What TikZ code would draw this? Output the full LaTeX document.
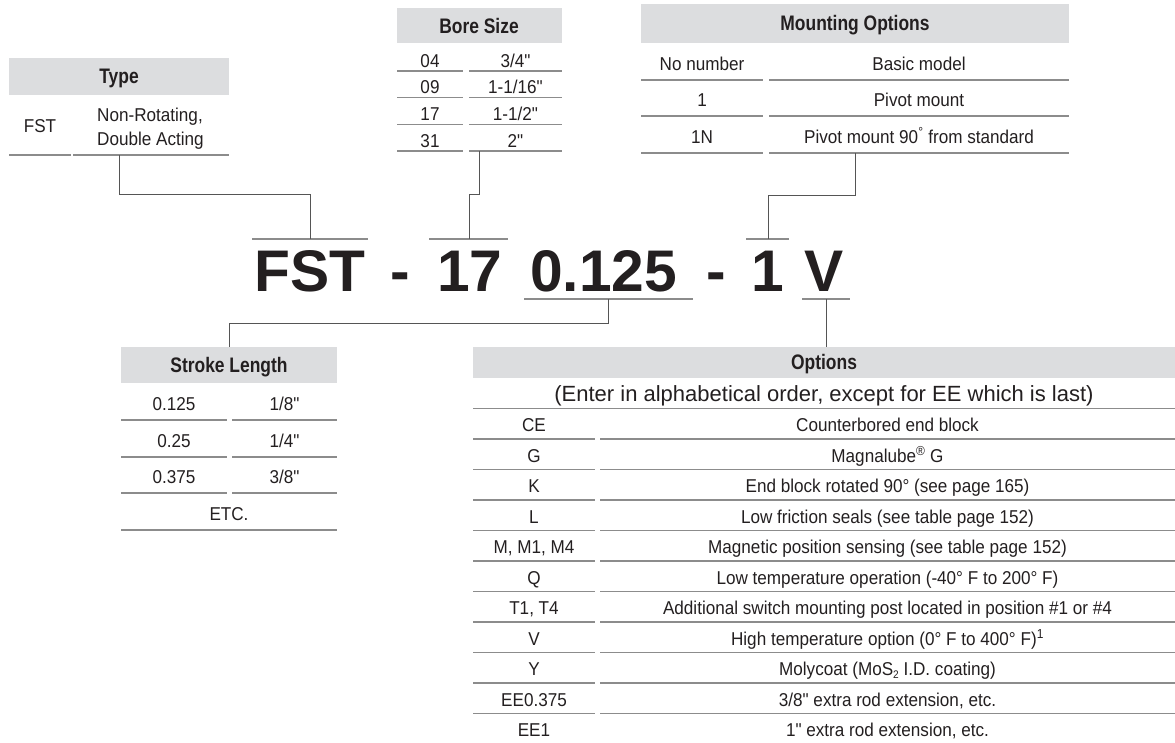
\documentclass[tikz,border=0pt]{standalone}
\usepackage{fontspec}
\setmainfont{Liberation Sans}
\newfontfamily\bodyf[FakeStretch=0.92]{Liberation Sans}
\newfontfamily\hdrf[FakeStretch=0.83]{Liberation Sans}
\definecolor{hdrgray}{HTML}{DCDDDF}
\definecolor{sepgray}{HTML}{8C8C8C}
\definecolor{conngray}{HTML}{555555}
\definecolor{ink}{HTML}{231F20}
\tikzset{
  hdrbox/.style={fill=hdrgray, draw=none, inner sep=0pt, anchor=north west},
  hdrtxt/.style={anchor=base, inner sep=0pt, text=ink, font=\hdrf\bfseries\fontsize{21}{24}\selectfont},
  cell/.style={anchor=base, inner sep=0pt, text=ink, font=\bodyf\fontsize{18.6}{22}\selectfont},
  subtxt/.style={anchor=base, inner sep=0pt, text=ink, font=\fontsize{22}{26}\selectfont},
  sep/.style={draw=sepgray, line width=1.4pt},
  conn/.style={draw=conngray, line width=1pt},
  uline/.style={draw=sepgray, line width=1.2pt},
  big/.style={anchor=base, inner sep=0pt, text=ink, font=\bfseries\fontsize{58.7}{60}\selectfont},
}
\begin{document}
\begin{tikzpicture}[x=1pt, y=-1pt]
\useasboundingbox (0,0) rectangle (1175,742);

% ---------- Type ----------
\node[hdrbox, minimum width=220pt, minimum height=37pt] (typeH) at (9,58) {};
\node[hdrtxt] (typeL) at (119,83.5) {Type};
\node[cell] (typeC1) at (40,132) {FST};
\node[cell, anchor=base west] (typeC2a) at (97,121) {Non-Rotating,};
\node[cell, anchor=base west] (typeC2b) at (97,145) {Double Acting};
\draw[sep] (9,155) -- (71,155);
\draw[sep] (73,155) -- (229,155);
\coordinate (typeB) at (119,155);

% ---------- Bore Size ----------
\node[hdrbox, minimum width=165pt, minimum height=35pt] (boreH) at (397,8) {};
\node[hdrtxt] (boreL) at (479,33) {Bore Size};
\node[cell] (b1a) at (430,67) {04};       \node[cell] (b1b) at (515.5,67) {3/4"};
\node[cell] (b2a) at (430,93.7) {09};     \node[cell] (b2b) at (515.5,93.7) {1-1/16"};
\node[cell] (b3a) at (430,120.3) {17};    \node[cell] (b3b) at (515.5,120.3) {1-1/2"};
\node[cell] (b4a) at (430,147) {31};      \node[cell] (b4b) at (515.5,147) {2"};
\foreach \yy in {71,97.7,124.3,151} {
  \draw[sep] (397,\yy) -- (463,\yy);
  \draw[sep] (469,\yy) -- (562,\yy);
}
\coordinate (boreB) at (479,151);

% ---------- Mounting Options ----------
\node[hdrbox, minimum width=428pt, minimum height=39pt] (mountH) at (641,4) {};
\node[hdrtxt] (mountL) at (855,30.5) {Mounting Options};
\node[cell] (m1a) at (702,70) {No number};  \node[cell] (m1b) at (919,70) {Basic model};
\node[cell] (m2a) at (702,106) {1};         \node[cell] (m2b) at (919,106) {Pivot mount};
\node[cell] (m3a) at (702,143) {1N};        \node[cell] (m3b) at (919,143) {Pivot mount 90\textsuperscript{°} from standard};
\foreach \yy in {80,116,153} {
  \draw[sep] (641,\yy) -- (763,\yy);
  \draw[sep] (769,\yy) -- (1069,\yy);
}
\coordinate (mountB) at (855,153);

% ---------- Model number ----------
\node[big] (pFST) at (310,291) {FST};
\node[big] (pD1) at (400.5,291) {-};
\node[big] (pBore) at (470,291) {17};
\node[big] (pStroke) at (603.5,291) {0.125};
\node[big] (pD2) at (716.5,291) {-};
\node[big] (pMount) at (768,291) {1};
\node[big] (pOpt) at (824,291) {V};
\draw[uline] (252,239) -- (368,239);
\draw[uline] (429,239) -- (508,239);
\draw[uline] (746,239) -- (789,239);
\draw[uline] (524,299) -- (693,299);
\draw[uline] (802,299) -- (850,299);
\coordinate (fstU) at (310,239);
\coordinate (boreU) at (469,239);
\coordinate (mountU) at (768,239);
\coordinate (strokeU) at (608,299);
\coordinate (optU) at (826,299);

% ---------- Stroke Length ----------
\node[hdrbox, minimum width=216pt, minimum height=36pt] (strokeH) at (121,347) {};
\node[hdrtxt] (strokeL) at (229,372) {Stroke Length};
\node[cell] (s1a) at (174,410) {0.125};  \node[cell] (s1b) at (284.5,410) {1/8"};
\node[cell] (s2a) at (174,447) {0.25};   \node[cell] (s2b) at (284.5,447) {1/4"};
\node[cell] (s3a) at (174,483) {0.375};  \node[cell] (s3b) at (284.5,483) {3/8"};
\node[cell] (s4) at (229,520) {ETC.};
\foreach \yy in {420,457,493} {
  \draw[sep] (121,\yy) -- (227,\yy);
  \draw[sep] (232,\yy) -- (337,\yy);
}
\draw[sep] (121,530) -- (337,530);
\coordinate (strokeT) at (229,347);

% ---------- Options ----------
\node[hdrbox, minimum width=702pt, minimum height=31pt] (optH) at (473,347) {};
\node[hdrtxt] (optL) at (824,369.5) {Options};
\node[subtxt] (optSub) at (824,401) {(Enter in alphabetical order, except for EE which is last)};
\draw[sep] (473,408.3) -- (1175,408.3);
\node[cell] (o1a) at (534,431.5) {CE};       \node[cell] (o1b) at (887.5,431.5) {Counterbored end block};
\node[cell] (o2a) at (534,462) {G};          \node[cell] (o2b) at (887.5,462) {Magnalube\textsuperscript{®} G};
\node[cell] (o3a) at (534,492.5) {K};        \node[cell] (o3b) at (887.5,492.5) {End block rotated 90° (see page 165)};
\node[cell] (o4a) at (534,523) {L};          \node[cell] (o4b) at (887.5,523) {Low friction seals (see table page 152)};
\node[cell] (o5a) at (534,553.5) {M, M1, M4}; \node[cell] (o5b) at (887.5,553.5) {Magnetic position sensing (see table page 152)};
\node[cell] (o6a) at (534,584) {Q};          \node[cell] (o6b) at (887.5,584) {Low temperature operation (-40° F to 200° F)};
\node[cell] (o7a) at (534,614.5) {T1, T4};   \node[cell] (o7b) at (887.5,614.5) {Additional switch mounting post located in position \#1 or \#4};
\node[cell] (o8a) at (534,645) {V};          \node[cell] (o8b) at (887.5,645) {High temperature option (0° F to 400° F)\textsuperscript{1}};
\node[cell] (o9a) at (534,675.5) {Y};        \node[cell] (o9b) at (887.5,675.5) {Molycoat (MoS\raisebox{-0.35ex}{\fontsize{11}{12}\selectfont 2} I.D. coating)};
\node[cell] (o10a) at (534,706) {EE0.375};   \node[cell] (o10b) at (887.5,706) {3/8" extra rod extension, etc.};
\node[cell] (o11a) at (534,736.5) {EE1};     \node[cell] (o11b) at (887.5,736.5) {1" extra rod extension, etc.};
\foreach \yy in {438.8,469.3,499.8,530.3,560.8,591.3,621.8,652.3,682.8,713.3} {
  \draw[sep] (473,\yy) -- (595,\yy);
  \draw[sep] (600,\yy) -- (1175,\yy);
}
\coordinate (optT) at (826,347);

% ---------- Connectors ----------
\draw[conn] (typeB) -- ++(0,39) -| (fstU);
\draw[conn] (boreB) -- ++(0,43) -| (boreU);
\draw[conn] (mountB) -- ++(0,42) -| (mountU);
\draw[conn] (strokeU) -- ++(0,24) -| (strokeT);
\draw[conn] (optU) -- (optT);
\end{tikzpicture}
\end{document}
